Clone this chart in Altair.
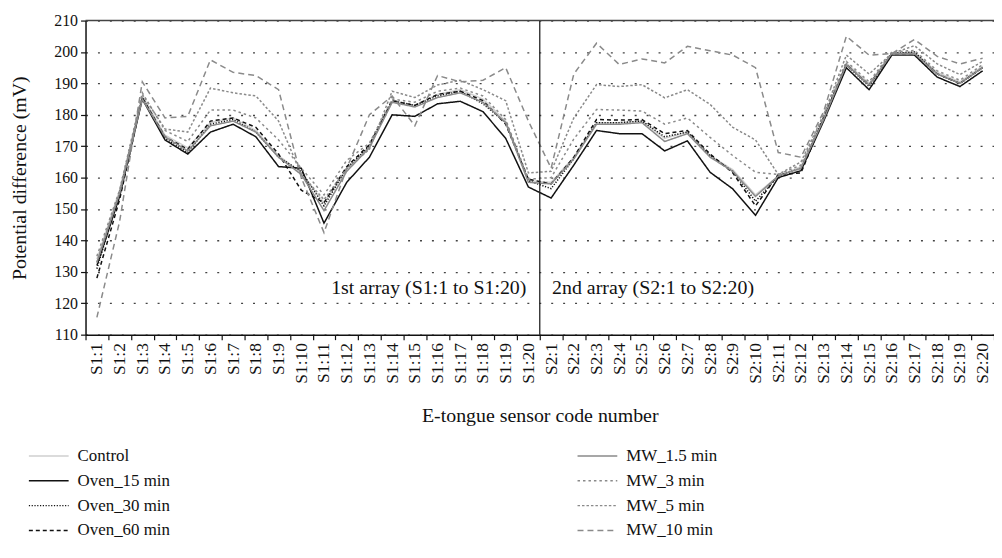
import altair as alt
import pandas as pd

sensors = ["S1:1", "S1:2", "S1:3", "S1:4", "S1:5", "S1:6", "S1:7", "S1:8", "S1:9", "S1:10",
           "S1:11", "S1:12", "S1:13", "S1:14", "S1:15", "S1:16", "S1:17", "S1:18", "S1:19", "S1:20",
           "S2:1", "S2:2", "S2:3", "S2:4", "S2:5", "S2:6", "S2:7", "S2:8", "S2:9", "S2:10",
           "S2:11", "S2:12", "S2:13", "S2:14", "S2:15", "S2:16", "S2:17", "S2:18", "S2:19", "S2:20"]

control = [134, 156, 186, 173.5, 169.5, 177.5, 179, 175, 167, 161.5, 152, 162.5, 170, 184, 183, 186.5, 188, 185, 178, 159,
           158.5, 166.5, 177.5, 177.5, 178, 172.5, 174.5, 167, 162.5, 154.5, 160.5, 163.5, 179, 196.5, 190, 199.5, 200, 193.5, 190.5, 195.5]
oven_15 = [132, 154, 185, 172, 167.5, 174.5, 177, 173, 163.5, 163, 145.5, 158.5, 166.5, 180, 179.5, 183.5, 184.3, 181, 172.5, 157,
           153.5, 164, 175, 174, 174, 168.5, 171.7, 161.7, 156.4, 148, 160, 162.2, 178, 195, 188, 199, 199, 192, 189, 194]
oven_30 = [131, 155, 185.5, 172.5, 168, 177, 178.5, 174.5, 166.5, 162, 151, 163, 170, 184.5, 183, 186, 187.5, 183.5, 177.5, 159,
           156.5, 166, 177.5, 177.5, 178, 173, 174.5, 167, 162, 152.5, 160.5, 163, 179, 196, 189, 199.5, 200, 193, 190, 195]
oven_60 = [128, 153, 185.5, 173, 169, 178, 179, 176, 167.5, 156, 152, 163.5, 170.5, 184.5, 183, 186.5, 187.5, 184.5, 177, 159.5,
           158, 166.5, 178.5, 178.3, 178.5, 174, 175, 167.5, 161.5, 151, 161, 161.5, 179, 196, 189.5, 199.5, 199.5, 193, 190, 195]
mw_1_5 = [133, 155, 185, 173, 168.5, 176.5, 178, 174.5, 166.5, 161, 149.5, 162, 169.5, 184, 182.5, 185.5, 187, 184, 177.5, 158.5,
          158, 166, 177, 177, 177.5, 171.5, 174, 166.5, 162, 154, 160.5, 163, 178.5, 196, 189.5, 199.5, 199.5, 193, 190, 195]
mw_3 = [135, 156, 187, 175, 171.5, 181.5, 181.5, 179, 172, 163, 154.5, 165.5, 171, 185, 184, 187.5, 188.5, 186, 178.5, 159.5,
        160, 172.3, 181.7, 181.5, 181.2, 177, 179, 172.8, 167, 161.7, 161, 164, 180, 197, 190.5, 200, 200.5, 194, 191, 196]
mw_5 = [133, 155, 186.5, 175.5, 174.5, 188.5, 187, 186, 178, 161, 153, 163, 169, 187.5, 185.5, 189.5, 191, 188, 184.5, 161.5,
        162, 179, 189.6, 189, 189.6, 185.4, 188, 183.3, 176, 172, 161, 165, 180, 199, 193, 199.5, 202, 196.2, 192.8, 197]
mw_10 = [115.5, 146, 190.5, 179, 179.5, 197.5, 193.5, 192.5, 188, 160, 142.5, 163, 180, 186, 176.5, 192.5, 190.5, 191, 195, 178,
         163, 193, 202.8, 196, 197.8, 196.5, 201.8, 200.4, 199, 195, 168, 166.5, 181, 205, 199, 199.5, 204, 198.6, 196.2, 198]

series_values = {
    "Control": control,
    "Oven_15 min": oven_15,
    "Oven_30 min": oven_30,
    "Oven_60 min": oven_60,
    "MW_1.5 min": mw_1_5,
    "MW_3 min": mw_3,
    "MW_5 min": mw_5,
    "MW_10 min": mw_10,
}

legend_order = ["Control", "Oven_15 min", "Oven_30 min", "Oven_60 min",
                "MW_1.5 min", "MW_3 min", "MW_5 min", "MW_10 min"]
series_colors = ["#cfcfcf", "#111111", "#111111", "#111111",
                 "#8a8a8a", "#8a8a8a", "#8a8a8a", "#8a8a8a"]
series_dashes = [[1, 0], [1, 0], [1.2, 1.6], [4, 3],
                 [1, 0], [2.5, 3], [2.5, 2], [6, 4]]
series_widths = [1.5, 1.5, 2.0, 1.5, 1.2, 2.8, 1.1, 1.2]

array_labels = ["1st array (S1:1 to S1:20)", "2nd array (S2:1 to S2:20)"]
array_anchor = ["S1:20", "S2:1"]
array_label_y = [125, 125]
divider_at = ["S2:1"]
top_value = [210]

rows = []
for name, vals in series_values.items():
    for i, (s, v) in enumerate(zip(sensors, vals)):
        rows.append({"sensor": s, "value": v, "series": name, "idx": i})
df = pd.DataFrame(rows)

FONT = "Liberation Serif"
xscale = alt.Scale(type="band", domain=sensors, paddingInner=0, paddingOuter=0)
yscale = alt.Scale(domain=[110, 210], nice=False, zero=False)

xaxis = alt.Axis(labelAngle=-90, tickBand="extent", title="E-tongue sensor code number",
                 labelFontSize=17.5, titleFontSize=20, tickSize=5, labelPadding=3,
                 titlePadding=23, domainWidth=1.5, tickWidth=1.2, grid=False)
yaxis = alt.Axis(values=list(range(110, 211, 10)), title="Potential difference (mV)",
                 grid=True, gridDash=[2, 10], gridColor="#444", gridWidth=1.3,
                 tickSize=5, labelFontSize=16, titleFontSize=20, labelPadding=3,
                 titlePadding=24, domainWidth=1.5, tickWidth=1.2)


def X(band_pos):
    return alt.X("sensor:N", scale=xscale, sort=sensors, bandPosition=band_pos, axis=xaxis)


def Y():
    return alt.Y("value:Q", scale=yscale, axis=yaxis)


lines = alt.Chart(df).mark_line(strokeJoin="miter").encode(
    x=X(0.5),
    y=Y(),
    color=alt.Color("series:N", scale=alt.Scale(domain=legend_order, range=series_colors),
                    legend=alt.Legend(title=None)),
    strokeDash=alt.StrokeDash("series:N", scale=alt.Scale(domain=legend_order, range=series_dashes),
                              legend=alt.Legend(title=None)),
    strokeWidth=alt.StrokeWidth("series:N", scale=alt.Scale(domain=legend_order, range=series_widths),
                                legend=alt.Legend(title=None)),
    order=alt.Order("idx:Q"),
)

divider = alt.Chart(pd.DataFrame({"sensor": divider_at})).mark_rule(
    color="#222", strokeWidth=1.3
).encode(x=X(0))

top_line = alt.Chart(pd.DataFrame({"value": top_value})).mark_rule(
    color="#444", strokeWidth=1.5
).encode(y=Y())

lab_df = pd.DataFrame({"sensor": array_anchor, "value": array_label_y, "label": array_labels})
text_left = alt.Chart(lab_df.iloc[[0]]).mark_text(
    align="right", baseline="middle", font=FONT, fontSize=20, dx=-2, color="#111"
).encode(x=X(0.5), y=Y(), text="label:N")
text_right = alt.Chart(lab_df.iloc[[1]]).mark_text(
    align="left", baseline="middle", font=FONT, fontSize=20, dx=1, color="#111"
).encode(x=X(0.5), y=Y(), text="label:N")

chart = alt.layer(lines, divider, top_line, text_left, text_right).properties(
    width=914, height=316,
    autosize=alt.AutoSizeParams(type="none"),
    padding={"left": 78, "top": 11, "right": 0, "bottom": 215},
).configure_view(stroke=None).configure_axis(
    labelFont=FONT, titleFont=FONT, labelColor="#111", titleColor="#111",
    titleFontWeight="normal", domainColor="#111", tickColor="#111",
).configure_legend(
    orient="none", legendX=-48, legendY=427, columns=2, columnPadding=406,
    rowPadding=6, symbolType="M-2,0H2", symbolSize=400, labelFont=FONT,
    labelFontSize=17, labelColor="#111", labelOffset=18, padding=0,
)

chart.save("out.html", embed_options={"renderer": "svg", "actions": False})
